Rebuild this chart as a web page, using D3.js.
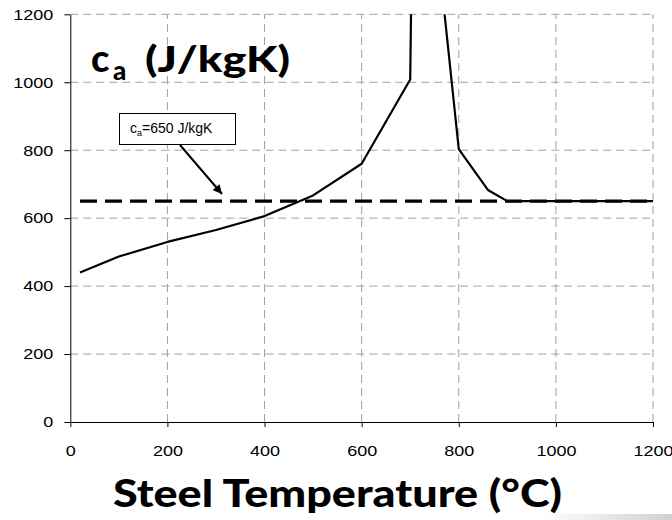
<!DOCTYPE html>
<html>
<head>
<meta charset="utf-8">
<script src="https://cdn.jsdelivr.net/npm/d3@7/dist/d3.min.js"></script>
<style>
  body { margin: 0; background: #fff; }
  svg { display: block; }
  .tick text { font-family: "Liberation Sans", Arial, sans-serif; font-size: 15px; fill: #000; }
  .big { font-family: "Century Gothic", Lato, "Open Sans", sans-serif; font-weight: 900; fill: #000; }
</style>
</head>
<body>
<svg id="chart" width="672" height="520"></svg>
<script>
// steel temperature (°C) and specific heat c_a (J/kgK)
var temps = [20, 100, 200, 300, 400, 500, 600, 700, 735, 750, 800, 860, 900, 1000, 1100, 1200];
var caValues = [440, 487, 530, 565, 606, 667, 760, 1008, 5000, 1483, 803, 683, 650, 650, 650, 650];
var constTemps = [20, 1200];
var constValue = 650;
var xTicks = [0, 200, 400, 600, 800, 1000, 1200];
var yTicks = [0, 200, 400, 600, 800, 1000, 1200];

var svg = d3.select('#chart');
var plotLeft = 70.3, plotRight = 653, plotTop = 14.3, plotBottom = 422;

var x = d3.scaleLinear().domain([0, 1200]).range([plotLeft, plotRight]);
var y = d3.scaleLinear().domain([0, 1200]).range([plotBottom, plotTop]);
var defs = svg.append('defs');

// grid
var grid = svg.append('g')
  .attr('stroke', '#a0a0a0')
  .attr('stroke-width', 1)
  .attr('stroke-dasharray', '8,5');
grid.selectAll('.vg').data(xTicks.slice(1)).enter().append('line')
  .attr('x1', function(d){ return x(d); }).attr('x2', function(d){ return x(d); })
  .attr('y1', plotBottom).attr('y2', plotTop);
grid.selectAll('.hg').data(yTicks.slice(1)).enter().append('line')
  .attr('y1', function(d){ return y(d); }).attr('y2', function(d){ return y(d); })
  .attr('x1', plotLeft).attr('x2', plotRight);

// clip for the curve
defs.append('clipPath').attr('id', 'plotclip')
  .append('rect').attr('x', plotLeft).attr('y', plotTop)
  .attr('width', plotRight - plotLeft + 2).attr('height', plotBottom - plotTop);

var line = d3.line()
  .x(function(d){ return x(d[0]); })
  .y(function(d){ return y(d[1]); });

svg.append('path')
  .datum(temps.map(function(t, i){ return [t, caValues[i]]; }))
  .attr('clip-path', 'url(#plotclip)')
  .attr('fill', 'none')
  .attr('stroke', '#000')
  .attr('stroke-width', 2.2)
  .attr('stroke-linejoin', 'round')
  .attr('d', line);

svg.append('path')
  .datum(constTemps.map(function(t){ return [t, constValue]; }))
  .attr('fill', 'none')
  .attr('stroke', '#000')
  .attr('stroke-width', 3.4)
  .attr('stroke-dasharray', '17,8')
  .attr('d', line);

// axes
var fmt = d3.format('d');
var yAxis = d3.axisLeft(y).tickValues(yTicks).tickFormat(fmt).tickSize(6).tickSizeOuter(0);
var yg = svg.append('g').attr('transform', 'translate(' + plotLeft + ',0)').call(yAxis);
yg.selectAll('text').attr('x', -17 / 1.2).attr('transform', 'scale(1.2,1)');

var xAxis = d3.axisBottom(x).tickValues(xTicks).tickFormat(fmt).tickSize(5).tickSizeOuter(0);
var xg = svg.append('g').attr('transform', 'translate(0,' + plotBottom + ')').call(xAxis);
xg.selectAll('text').attr('y', 23).attr('transform', 'scale(1.2,1)');
svg.selectAll('.domain, .tick line').attr('stroke', '#000');

// annotation box
var box = svg.append('g');
box.append('rect').attr('x', 119.5).attr('y', 113.5).attr('width', 116).attr('height', 31)
  .attr('fill', '#fff').attr('stroke', '#000').attr('stroke-width', 1);
var lab = box.append('text').attr('x', 130).attr('y', 133)
  .attr('font-family', '"Liberation Sans", Arial, sans-serif').attr('font-size', 14).attr('fill', '#000');
lab.append('tspan').text('c');
lab.append('tspan').attr('font-size', 9).attr('dy', 3).text('a');
lab.append('tspan').attr('dy', -3).text('=650 J/kgK');

defs.append('marker').attr('id', 'arr')
  .attr('viewBox', '0 0 10 10').attr('refX', 10).attr('refY', 5)
  .attr('markerWidth', 5).attr('markerHeight', 4.5).attr('orient', 'auto')
  .attr('markerUnits', 'strokeWidth')
  .append('path').attr('d', 'M0,0L10,5L0,10z').attr('fill', '#000');
svg.append('line').attr('x1', 180).attr('y1', 145).attr('x2', 222).attr('y2', 194)
  .attr('stroke', '#000').attr('stroke-width', 2).attr('marker-end', 'url(#arr)');

// titles
svg.append('text').attr('class', 'big').attr('x', 91).attr('y', 72).attr('font-size', 38).text('c');
svg.append('text').attr('class', 'big').attr('x', 113).attr('y', 80).attr('font-size', 26).text('a');
svg.append('text').attr('class', 'big').attr('x', 145).attr('y', 72).attr('font-size', 36)
  .attr('textLength', 145).attr('lengthAdjust', 'spacingAndGlyphs').text('(J/kgK)');

svg.append('text').attr('class', 'big').attr('x', 113).attr('y', 507).attr('font-size', 38)
  .attr('textLength', 449).attr('lengthAdjust', 'spacingAndGlyphs').text('Steel Temperature (°C)');

// faint scan artefact bottom right
var grad = defs.append('linearGradient').attr('id', 'fade');
grad.append('stop').attr('offset', '0%').attr('stop-color', '#fff');
grad.append('stop').attr('offset', '100%').attr('stop-color', '#d0d0d0');
svg.append('rect').attr('x', 540).attr('y', 514).attr('width', 132).attr('height', 6).attr('fill', 'url(#fade)');
</script>
</body>
</html>
